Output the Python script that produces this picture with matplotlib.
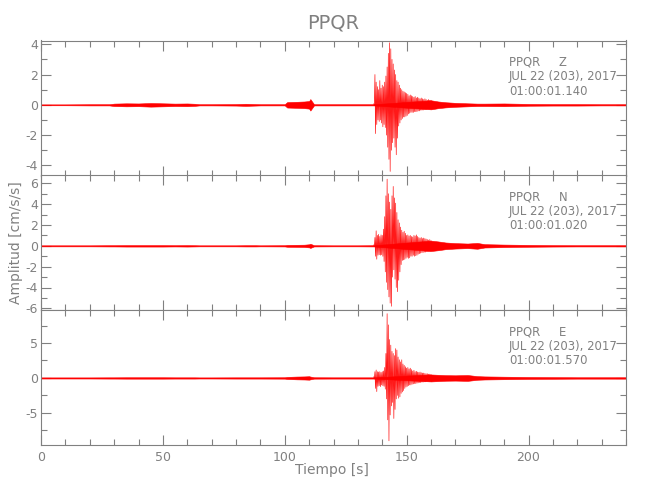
import numpy as np
import matplotlib
matplotlib.use("Agg")
import matplotlib.pyplot as plt
from matplotlib.ticker import MultipleLocator

plt.rcParams['font.family'] = ['DejaVu Sans']
plt.rcParams['axes.unicode_minus'] = False

# ---------------- data ----------------
station = "PPQR"
components = ["Z", "N", "E"]
start_times = ["01:00:01.140", "01:00:01.020", "01:00:01.570"]
date_label = "JUL 22 (203), 2017"
ylims = [(-4.67, 4.25), (-6.16, 6.8), (-9.6, 9.73)]
ymajor = [2, 2, 5]
yminor = [1, 1, 2.5]

# background / coda envelope (symmetric amplitude)
noise_t = [0, 10, 20, 28, 30, 35, 40, 45, 50, 55, 60, 63, 65, 70, 80, 84, 88, 90,
           100, 101, 105, 108, 110, 110.5, 112, 120, 130, 136.5,
           160, 163, 166, 170, 175, 179, 182, 190, 200, 210, 220, 230, 240]
noise_z = [0.03, 0.03, 0.04, 0.04, 0.08, 0.1, 0.09, 0.12, 0.1, 0.08, 0.09, 0.07, 0.04, 0.04, 0.05, 0.07, 0.05, 0.04,
           0.04, 0.18, 0.2, 0.22, 0.25, 0.38, 0.04, 0.04, 0.04, 0.04,
           0.3, 0.22, 0.17, 0.13, 0.1, 0.08, 0.08, 0.09, 0.06, 0.05, 0.05, 0.04, 0.04]
noise_n = [0.05, 0.05, 0.05, 0.06, 0.06, 0.07, 0.07, 0.07, 0.07, 0.06, 0.07, 0.06, 0.05, 0.05, 0.05, 0.06, 0.06, 0.05,
           0.06, 0.09, 0.1, 0.11, 0.15, 0.2, 0.06, 0.05, 0.05, 0.06,
           0.5, 0.42, 0.32, 0.26, 0.22, 0.28, 0.16, 0.12, 0.09, 0.07, 0.06, 0.06, 0.06]
noise_e = [0.08, 0.08, 0.08, 0.09, 0.09, 0.1, 0.1, 0.1, 0.1, 0.09, 0.09, 0.09, 0.08, 0.08, 0.09, 0.09, 0.09, 0.09,
           0.1, 0.15, 0.2, 0.22, 0.25, 0.2, 0.1, 0.09, 0.09, 0.09,
           0.5, 0.45, 0.4, 0.38, 0.42, 0.26, 0.22, 0.18, 0.14, 0.12, 0.1, 0.1, 0.1]

# event peaks (upper / lower excursions), sampled every 0.5 s from 136.5 s
event_t0 = 136.5
event_dt = 0.5
z_up = [0.06, 2.0, 1.5, 1.2, 1.0, 1.6, 1.1, 1.3,
        1.2, 1.5, 1.9, 2.5, 3.4, 4.1, 3.7, 3.0,
        2.7, 2.3, 2.0, 1.6, 1.5, 1.3, 1.1, 1.0,
        0.9, 0.85, 0.8, 0.75, 0.7, 0.6, 0.65, 0.6,
        0.55, 0.5, 0.55, 0.45, 0.5, 0.45, 0.4, 0.45,
        0.4, 0.35, 0.4, 0.35, 0.3, 0.35, 0.3, 0.3]
z_lo = [-0.06, -1.9, -1.3, -1.0, -1.1, -1.0, -1.2, -1.45,
        -1.3, -1.5, -2.0, -2.8, -3.6, -4.4, -3.0, -2.5,
        -2.2, -2.8, -3.3, -2.2, -1.4, -1.2, -1.0, -0.9,
        -0.8, -0.8, -0.75, -0.7, -0.6, -0.55, -0.5, -0.5,
        -0.5, -0.45, -0.45, -0.45, -0.4, -0.4, -0.35, -0.35,
        -0.35, -0.3, -0.3, -0.3, -0.28, -0.25, -0.25, -0.25]
n_up = [0.08, 0.8, 1.44, 1.0, 1.1, 0.9, 1.05, 1.0,
        1.6, 2.8, 4.8, 6.4, 5.0, 4.2, 3.5, 4.8,
        5.7, 4.6, 4.1, 3.2, 2.5, 2.2, 1.8, 1.5,
        1.3, 1.4, 1.2, 1.0, 1.05, 0.95, 1.0, 0.9,
        0.85, 1.0, 0.95, 1.05, 0.9, 0.8, 0.75, 0.8,
        0.7, 0.75, 0.7, 0.65, 0.6, 0.55, 0.6, 0.5]
n_lo = [-0.08, -1.0, -1.28, -0.9, -0.85, -0.9, -0.85, -1.0,
        -1.5, -2.5, -3.5, -4.2, -4.9, -5.5, -5.8, -3.0,
        -2.3, -3.2, -4.0, -4.4, -3.3, -2.5, -1.8, -1.4,
        -1.35, -1.3, -1.2, -1.1, -1.2, -1.15, -1.0, -1.0,
        -0.9, -1.0, -0.95, -0.9, -0.8, -0.75, -0.7, -0.65,
        -0.65, -0.6, -0.6, -0.55, -0.55, -0.5, -0.5, -0.45]
e_up = [0.15, 0.9, 1.14, 0.9, 0.85, 0.9, 0.8, 0.9,
        1.0, 1.5, 3.5, 9.2, 7.6, 5.5, 4.7, 3.8,
        3.5, 3.2, 4.2, 4.0, 3.0, 2.6, 2.3, 2.6,
        2.0, 1.8, 1.6, 1.4, 1.5, 1.3, 1.4, 1.2,
        1.0, 1.1, 0.9, 0.95, 0.85, 0.8, 0.85, 0.75,
        0.7, 0.7, 0.65, 0.6, 0.6, 0.55, 0.55, 0.5]
e_lo = [-0.15, -1.5, -1.95, -1.2, -1.1, -1.24, -1.0, -1.1,
        -1.2, -1.6, -3.0, -6.0, -9.0, -5.3, -4.0, -3.5,
        -5.8, -4.5, -3.0, -2.5, -2.9, -2.7, -2.2, -2.0,
        -1.8, -1.5, -1.3, -1.2, -1.1, -1.0, -1.0, -0.9,
        -0.85, -0.8, -0.8, -0.75, -0.7, -0.65, -0.65, -0.6,
        -0.6, -0.55, -0.55, -0.5, -0.5, -0.5, -0.45, -0.45]

noises = [noise_z, noise_n, noise_e]
uppers = [z_up, n_up, e_up]
lowers = [z_lo, n_lo, e_lo]

# ---------------- figure ----------------
gray = '#808080'
red = '#ff0000'
fs = 9
afs = 8.4
fig = plt.figure(figsize=(6.5, 5.0), dpi=100)

left, width = 41 / 650, 585 / 650
tops = [40.5, 175, 310]
h = 135
for i in range(3):
    bottom = 1 - (tops[i] + h) / 500
    ax = fig.add_axes([left, bottom, width, h / 500])

    nt = np.array(noise_t)
    na = np.array(noises[i])
    ax.fill_between(nt, -na, na, color=red, lw=0.4, zorder=2)

    up = np.array(uppers[i])
    lo = np.array(lowers[i])
    te = event_t0 + event_dt * np.arange(len(up))
    zt = np.empty(2 * len(up))
    zv = np.empty(2 * len(up))
    zt[0::2] = te
    zt[1::2] = te + event_dt / 2
    zv[0::2] = up
    zv[1::2] = lo
    ax.plot(zt, zv, color=red, lw=0.5, alpha=0.9, zorder=3, clip_on=False)

    ax.set_xlim(0, 240)
    ax.set_ylim(*ylims[i])
    ax.xaxis.set_major_locator(MultipleLocator(50))
    ax.xaxis.set_minor_locator(MultipleLocator(10))
    ax.yaxis.set_major_locator(MultipleLocator(ymajor[i]))
    ax.yaxis.set_minor_locator(MultipleLocator(yminor[i]))
    ax.tick_params(which='both', direction='in', top=True, right=True,
                   colors=gray, labelcolor=gray, labelsize=fs, width=0.8)
    ax.tick_params(which='major', length=7)
    ax.tick_params(which='minor', length=4)
    ax.tick_params(axis='y', pad=2)
    ax.tick_params(axis='x', pad=4)
    for s in ax.spines.values():
        s.set_color(gray)
        s.set_linewidth(0.8)
    if i < 2:
        ax.tick_params(axis='x', labelbottom=False)

    ax.text(0.8, 0.84, f"{station}     {components[i]}", transform=ax.transAxes,
            color=gray, fontsize=afs, va='center', ha='left')
    ax.text(0.8, 0.73, date_label, transform=ax.transAxes,
            color=gray, fontsize=afs, va='center', ha='left')
    ax.text(0.8, 0.625, start_times[i], transform=ax.transAxes,
            color=gray, fontsize=afs, va='center', ha='left')

fig.text(0.513, 0.954, station, color=gray, fontsize=14, ha='center', va='center')
fig.text(0.51, 0.06, "Tiempo [s]", color=gray, fontsize=fs + 1, ha='center', va='center')
fig.text(0.024, 0.514, "Amplitud [cm/s/s]", color=gray, fontsize=fs + 1, ha='center',
         va='center', rotation=90)

fig.savefig("out.png", dpi=100)
